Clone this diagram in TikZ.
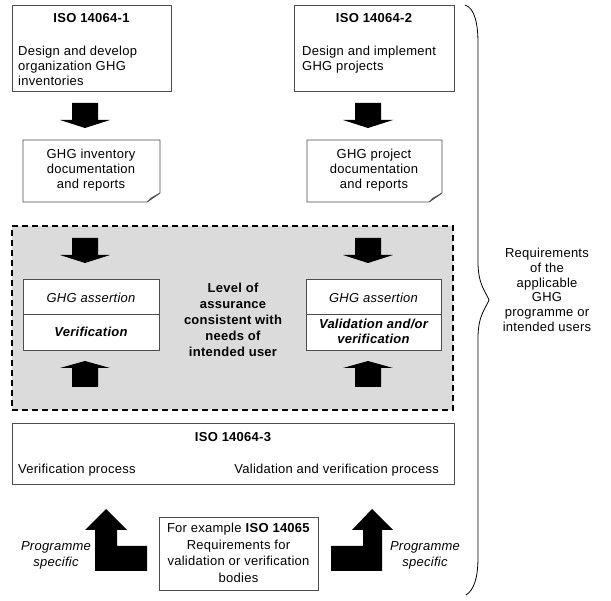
\documentclass[tikz,border=0pt]{standalone}
\usepackage{fontspec}
\setmainfont[LetterSpace=2]{Liberation Sans}
\usetikzlibrary{calc}
\begin{document}
\begin{tikzpicture}[x=1pt,y=-1pt,
  boxw/.style={draw=black!70,line width=0.8pt,fill=white,inner sep=0pt,outer sep=0pt},
  docw/.style={inner sep=0pt,outer sep=0pt},
  txt/.style={inner sep=0pt,font=\fontsize{13}{15}\selectfont},
  docline/.style={draw=black!70,line width=0.8pt,fill=white},
  blockdown/.pic={\fill[black] (-13,0) -- (13,0) -- (13,17) -- (25,17) -- (0,25) -- (-25,17) -- (-13,17) -- cycle;},
  blockup/.pic={\fill[black] (-13,0) -- (13,0) -- (13,-19) -- (25,-19) -- (0,-26) -- (-25,-19) -- (-13,-19) -- cycle;}]
\useasboundingbox (0,0) rectangle (611,601);

% top boxes
\node[boxw,minimum width=159pt,minimum height=86pt] (iso1) at (91.5,48) {};
\node[txt,font=\fontsize{13}{15}\selectfont\bfseries] (iso1t) at (91.5,18) {ISO 14064-1};
\node[txt,align=left,anchor=west] (iso1b) at (18,66) {Design and develop\\organization GHG\\inventories};

\node[boxw,minimum width=160pt,minimum height=86pt] (iso2) at (374,48) {};
\node[txt,font=\fontsize{13}{15}\selectfont\bfseries] (iso2t) at (374,18) {ISO 14064-2};
\node[txt,align=left,anchor=west] (iso2b) at (302,59.5) {Design and implement\\GHG projects};

% arrows to documents
\pic at (85,103) {blockdown};
\pic at (368,103) {blockdown};

% documents
\node[docw,minimum width=137pt,minimum height=62pt] (doc1) at (91.5,171) {};
\node[docw,minimum width=135pt,minimum height=62pt] (doc2) at (374.5,171) {};
\foreach \d in {doc1,doc2}{
  \draw[docline] (\d.north west) -- (\d.north east) -- ($(\d.south east)+(0,-9)$) -- ($(\d.south east)+(-13,0)$) -- (\d.south west) -- cycle;
  \draw[draw=black!70,line width=0.6pt,fill=black!12] ($(\d.south east)+(0,-9)$) -- ($(\d.south east)+(-9,-4)$) -- ($(\d.south east)+(-13,0)$) -- cycle;
}
\node[txt,align=center] (doc1t) at (91,170) {GHG inventory\\documentation\\and reports};
\node[txt,align=center] (doc2t) at (374,170) {GHG project\\documentation\\and reports};

% gray region
\node[draw=black,dashed,dash pattern=on 6pt off 4pt,line width=1.5pt,fill=black!14,minimum width=441pt,minimum height=184pt,inner sep=0pt] (grey) at (232.5,318) {};

\pic at (85,238) {blockdown};
\pic at (368,238) {blockdown};

\node[boxw,minimum width=136pt,minimum height=35pt] (assL) at (91,296.5) {};
\node[boxw,minimum width=136pt,minimum height=36pt] (verL) at (91,332) {};
\node[txt,font=\fontsize{13}{15}\selectfont\itshape] (assLt) at (91,298) {GHG assertion};
\node[txt,font=\fontsize{13}{15}\selectfont\bfseries\itshape] (verLt) at (91,332) {Verification};

\node[boxw,minimum width=135pt,minimum height=35pt] (assR) at (373.5,296.5) {};
\node[boxw,minimum width=135pt,minimum height=36pt] (verR) at (373.5,332) {};
\node[txt,font=\fontsize{13}{15}\selectfont\itshape] (assRt) at (373.5,298) {GHG assertion};
\node[txt,align=center,font=\fontsize{13}{15}\selectfont\bfseries\itshape] (verRt) at (373.5,331) {Validation and/or\\verification};

\node[txt,align=center,font=\fontsize{13}{16}\selectfont\bfseries] (level) at (233,320) {Level of\\assurance\\consistent with\\needs of\\intended user};

\pic at (85,387) {blockup};
\pic at (368,387) {blockup};

% ISO 14064-3
\node[boxw,minimum width=442pt,minimum height=61pt] (iso3) at (233,453.5) {};
\node[txt,font=\fontsize{13}{15}\selectfont\bfseries] (iso3t) at (233,437) {ISO 14064-3};
\node[txt,anchor=west] (verp) at (18,470) {Verification process};
\node[txt,anchor=east] (valp) at (439,470) {Validation and verification process};

% bottom
\node[boxw,minimum width=159pt,minimum height=73pt] (ex) at (238.5,553.5) {};
\node[txt,align=center,font=\fontsize{13}{16.5}\selectfont] (ext) at (238.5,553) {For example \textbf{ISO 14065}\\Requirements for\\validation or verification\\bodies};

\fill[black] (106,509) -- (127,530) -- (117,530) -- (117,546) -- (147,546) -- (147,571) -- (95,571) -- (95,530) -- (85,530) -- cycle;
\fill[black] (372,509) -- (393,530) -- (382,530) -- (382,571) -- (331,571) -- (331,546) -- (363,546) -- (363,530) -- (352,530) -- cycle;

\node[txt,align=center,font=\fontsize{13}{16}\selectfont\itshape] (psL) at (56,555) {Programme\\specific};
\node[txt,align=center,font=\fontsize{13}{16}\selectfont\itshape] (psR) at (425,555) {Programme\\specific};

% brace
\draw[black,line width=0.8pt] (465,5) .. controls (475,8) and (478,25) .. (478,43) -- (478,262) .. controls (478,285) and (486,292) .. (489,300) .. controls (486,308) and (478,315) .. (478,338) -- (478,557) .. controls (478,578) and (474,590) .. (466,595);

\node[txt,align=center,font=\fontsize{13}{14.7}\selectfont] (req) at (547,290) {Requirements\\of the\\applicable\\GHG\\programme or\\intended users};
\end{tikzpicture}
\end{document}
